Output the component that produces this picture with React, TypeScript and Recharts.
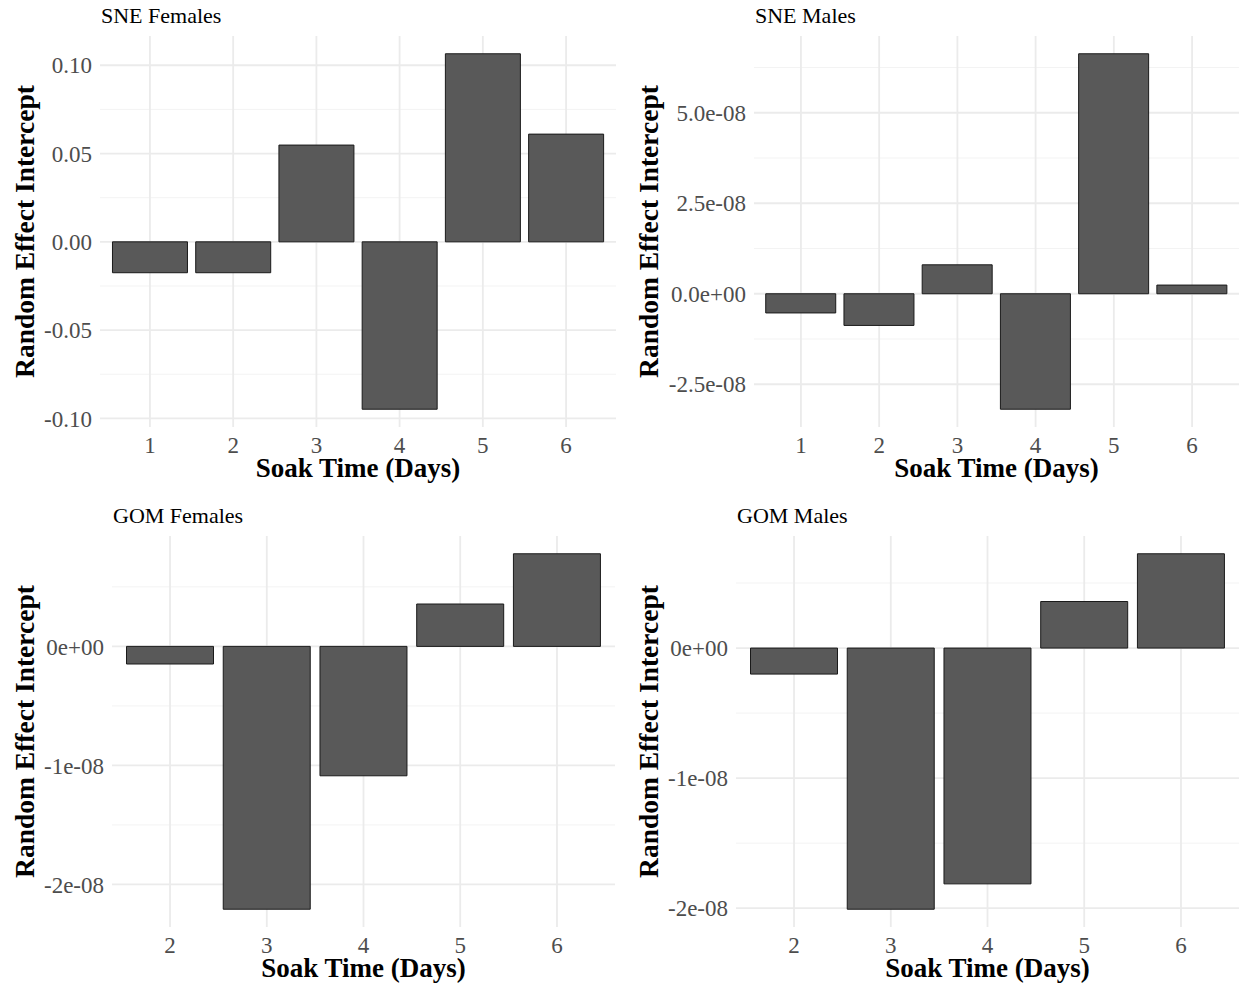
import { BarChart, Bar, XAxis, YAxis, CartesianGrid } from 'recharts'

// soak time categories
const sneDays = ['1', '2', '3', '4', '5', '6']
const gomDays = ['2', '3', '4', '5', '6']

// random effect intercepts
const sneFemales = [-0.0175, -0.0175, 0.0548, -0.0948, 0.1065, 0.061]
const sneMales = [-5.3e-9, -8.75e-9, 8.0e-9, -3.19e-8, 6.63e-8, 2.4e-9]
const gomFemales = [-1.48e-9, -2.208e-8, -1.087e-8, 3.56e-9, 7.78e-9]
const gomMales = [-2.0e-9, -2.008e-8, -1.813e-8, 3.58e-9, 7.25e-9]

// y ticks
const sneFemaleTicks = [-0.1, -0.05, 0, 0.05, 0.1]
const sneFemaleLabels = ['-0.10', '-0.05', '0.00', '0.05', '0.10']
const sneFemaleMinor = [-0.075, -0.025, 0.025, 0.075]

const sneMaleTicks = [-2.5e-8, 0, 2.5e-8, 5e-8]
const sneMaleLabels = ['-2.5e-08', '0.0e+00', '2.5e-08', '5.0e-08']
const sneMaleMinor = [-1.25e-8, 1.25e-8, 3.75e-8, 6.25e-8]

const gomTicks = [-2e-8, -1e-8, 0]
const gomLabels = ['-2e-08', '-1e-08', '0e+00']
const gomMinor = [-1.5e-8, -5e-9, 5e-9]

const FONT = '"Liberation Serif", "Times New Roman", serif'
const Y_W = 90
const X_H = 30

type Box = { x: number; y: number; w: number; h: number }
type Plot = { left: number; top: number; right: number; bottom: number }

function scaleOf(axis: any) {
  const sc = axis?.scale
  return (v: number): number => {
    if (typeof sc === 'function') return sc(v)
    if (sc && typeof sc.map === 'function') return sc.map(v)
    return NaN
  }
}

function Panel(props: {
  title: string
  days: string[]
  values: number[]
  ticks: number[]
  labels: string[]
  minor: number[]
  box: Box
  plot: Plot
}) {
  const { days, values, ticks, labels, minor, box, plot } = props
  const data = days.map((d, i) => ({ day: d, value: values[i] }))
  const lo = Math.min(0, ...values)
  const hi = Math.max(0, ...values)
  const ex = (hi - lo) * 0.05
  const domain: [number, number] = [lo - ex, hi + ex]
  const margin = {
    top: plot.top - box.y,
    left: plot.left - box.x - Y_W,
    right: box.x + box.w - plot.right,
    bottom: box.y + box.h - plot.bottom - X_H,
  }
  const step = (plot.right - plot.left) / (days.length + 0.2)
  const padX = step * 0.1
  const fmt = (v: number) => {
    const i = ticks.findIndex(t => Math.abs(t - v) < 1e-15)
    return i >= 0 ? labels[i] : ''
  }
  const tickStyle = { fill: '#4d4d4d', fontSize: 23, fontFamily: FONT }

  return (
    <div style={{ position: 'absolute', left: box.x, top: box.y, width: box.w, height: box.h }}>
      <BarChart width={box.w} height={box.h} data={data} margin={margin} barCategoryGap="5%">
        <CartesianGrid
          vertical={false}
          stroke="#f3f3f3"
          strokeWidth={1}
          horizontalCoordinatesGenerator={({ yAxis }: any) => minor.map(scaleOf(yAxis))}
        />
        <CartesianGrid stroke="#ebebeb" strokeWidth={1.8} syncWithTicks />
        <XAxis
          dataKey="day"
          type="category"
          height={X_H}
          axisLine={false}
          tickLine={false}
          tickSize={0}
          tickMargin={10}
          padding={{ left: padX, right: padX }}
          tick={tickStyle}
        />
        <YAxis
          type="number"
          width={Y_W}
          domain={domain}
          ticks={ticks}
          tickFormatter={fmt}
          axisLine={false}
          tickLine={false}
          tickSize={0}
          tickMargin={8}
          interval={0}
          tick={tickStyle}
        />
        <Bar dataKey="value" fill="#595959" stroke="#1a1a1a" strokeWidth={1} isAnimationActive={false} />
      </BarChart>
    </div>
  )
}

const panels = [
  {
    title: 'SNE Females', days: sneDays, values: sneFemales, ticks: sneFemaleTicks, labels: sneFemaleLabels,
    minor: sneFemaleMinor, box: { x: 0, y: 0, w: 620, h: 495 }, plot: { left: 100, top: 36, right: 616, bottom: 427 },
    titleBase: 23, xTitleBase: 477, yTitleX: 34,
  },
  {
    title: 'SNE Males', days: sneDays, values: sneMales, ticks: sneMaleTicks, labels: sneMaleLabels,
    minor: sneMaleMinor, box: { x: 620, y: 0, w: 619, h: 495 }, plot: { left: 754, top: 36, right: 1239, bottom: 427 },
    titleBase: 23, xTitleBase: 477, yTitleX: 658,
  },
  {
    title: 'GOM Females', days: gomDays, values: gomFemales, ticks: gomTicks, labels: gomLabels,
    minor: gomMinor, box: { x: 0, y: 500, w: 620, h: 493 }, plot: { left: 112, top: 536, right: 615, bottom: 927 },
    titleBase: 523, xTitleBase: 977, yTitleX: 34,
  },
  {
    title: 'GOM Males', days: gomDays, values: gomMales, ticks: gomTicks, labels: gomLabels,
    minor: gomMinor, box: { x: 620, y: 500, w: 619, h: 493 }, plot: { left: 736, top: 536, right: 1239, bottom: 927 },
    titleBase: 523, xTitleBase: 977, yTitleX: 658,
  },
]

export default function App() {
  return (
    <div style={{ position: 'absolute', left: 0, top: 0, width: 1239, height: 993, overflow: 'hidden', background: '#fff' }}>
      {panels.map(p => (
        <Panel key={p.title} {...p} />
      ))}
      <svg width={1239} height={993} style={{ position: 'absolute', left: 0, top: 0, pointerEvents: 'none' }}>
        {panels.map(p => {
          const cx = (p.plot.left + p.plot.right) / 2
          const cy = (p.plot.top + p.plot.bottom) / 2
          return (
            <g key={p.title} fontFamily={FONT}>
              <text x={p.plot.left + 1} y={p.titleBase} fontSize={22} fill="#000">{p.title}</text>
              <text x={cx} y={p.xTitleBase} fontSize={27} fontWeight="bold" textAnchor="middle" fill="#000">
                Soak Time (Days)
              </text>
              <text
                transform={`translate(${p.yTitleX}, ${cy}) rotate(-90)`}
                fontSize={27.5}
                fontWeight="bold"
                textAnchor="middle"
                fill="#000"
              >
                Random Effect Intercept
              </text>
            </g>
          )
        })}
      </svg>
    </div>
  )
}
